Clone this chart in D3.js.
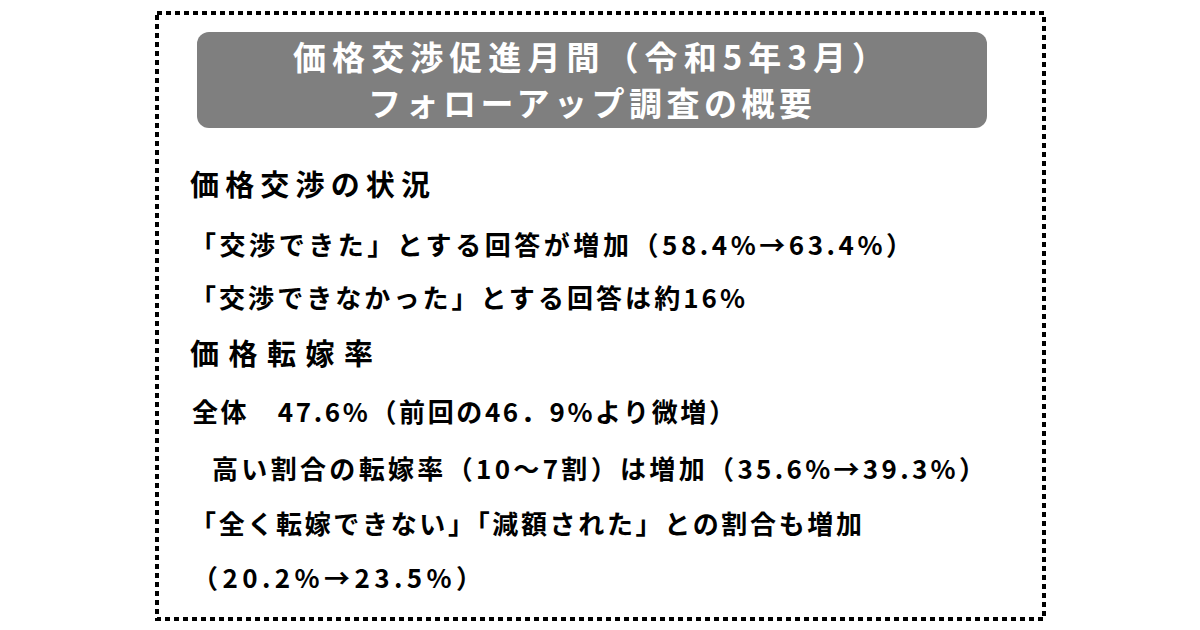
<!DOCTYPE html>
<html><head><meta charset="utf-8">
<script src="https://cdn.jsdelivr.net/npm/d3@7"></script>
<style>body{margin:0;background:#fff}svg{display:block}</style>
</head><body>
<script>
const titleLines = ["価格交渉促進月間（令和5年3月）", "フォローアップ調査の概要"];
const titleSpan = [[293,885],[368,812]];
const headings = ["価格交渉の状況", "価格転嫁率"];
const headingY = [183, 352];
const headingEnd = [430, 373];
const bodyLines = [
  {t:"「交渉できた」とする回答が増加（58.4%→63.4%）", y:243, x:190, e:912},
  {t:"「交渉できなかった」とする回答は約16%", y:296, x:190, e:745},
  {t:"全体　47.6%（前回の46．9%より微増）", y:410, x:192, e:735},
  {t:"高い割合の転嫁率（10〜7割）は増加（35.6%→39.3%）", y:467, x:212, e:985},
  {t:"「全く転嫁できない」「減額された」との割合も増加", y:522, x:190, e:862},
  {t:"（20.2%→23.5%）", y:576, x:192, e:482}
];
const W=1200,H=630;
const svg=d3.select("body").append("svg").attr("width",W).attr("height",H);
const font='"Noto Sans CJK JP","Noto Sans",sans-serif';
svg.append("rect").attr("x",157).attr("y",13).attr("width",887).attr("height",606)
  .attr("fill","none").attr("stroke","#000").attr("stroke-width",4).attr("stroke-dasharray","5,4");
svg.append("rect").attr("x",197).attr("y",32).attr("width",790).attr("height",96).attr("rx",12)
  .attr("fill","#7f7f7f");
svg.selectAll("text.title").data(titleLines).join("text").attr("class","title")
  .attr("x",(d,i)=>titleSpan[i][0]).attr("y",(d,i)=>56+i*46).attr("dominant-baseline","central")
  .attr("textLength",(d,i)=>titleSpan[i][1]-titleSpan[i][0]).attr("lengthAdjust","spacing")
  .attr("fill","#fff").attr("font-family",font).attr("font-weight","bold").attr("font-size",33).text(d=>d);
svg.selectAll("text.h").data(headings).join("text").attr("class","h")
  .attr("x",190).attr("y",(d,i)=>headingY[i]).attr("dominant-baseline","central")
  .attr("textLength",(d,i)=>headingEnd[i]-190).attr("lengthAdjust","spacing")
  .attr("font-family",font).attr("font-weight","bold").attr("font-size",29).attr("fill","#000").text(d=>d);
svg.selectAll("text.b").data(bodyLines).join("text").attr("class","b")
  .attr("x",d=>d.x).attr("y",d=>d.y).attr("dominant-baseline","central")
  .attr("textLength",d=>d.e-d.x).attr("lengthAdjust","spacing")
  .attr("font-family",font).attr("font-weight","bold").attr("font-size",26).attr("fill","#000").text(d=>d.t);
</script>
</body></html>
